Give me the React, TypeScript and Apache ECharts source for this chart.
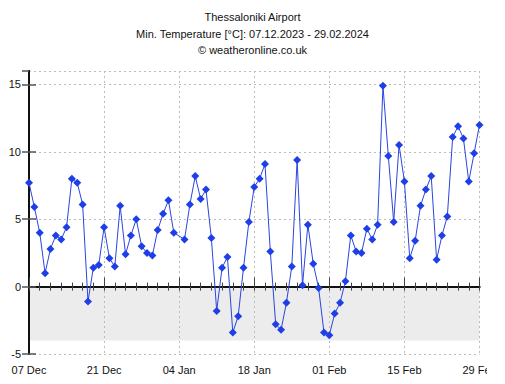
import React, { useEffect, useRef } from "react";
import * as echarts from "echarts";

const titleLines = [
  "Thessaloniki Airport",
  "Min. Temperature [°C]: 07.12.2023 - 29.02.2024",
  "© weatheronline.co.uk",
];

// day index 0 = 07 Dec 2023 ... 84 = 29 Feb 2024
const tickLabels = ["07 Dec", "21 Dec", "04 Jan", "18 Jan", "01 Feb", "15 Feb", "29 Feb"];

const minTemps: (number | null)[] = [
  7.7, 5.9, 4.0, 1.0, 2.8, 3.8, 3.5, 4.4, 8.0, 7.7,
  6.1, -1.1, 1.4, 1.6, 4.4, 2.1, 1.5, 6.0, 2.4, 3.8,
  5.0, 3.0, 2.5, 2.3, 4.2, 5.4, 6.4, 4.0, null, 3.5,
  6.1, 8.2, 6.5, 7.2, 3.6, -1.8, 1.4, 2.2, -3.4, -2.2,
  1.4, 4.8, 7.4, 8.0, 9.1, 2.6, -2.8, -3.2, -1.2, 1.5,
  9.4, 0.1, 4.6, 1.7, -0.1, -3.4, -3.6, -2.0, -1.2, 0.4,
  3.8, 2.6, 2.5, 4.3, 3.5, 4.6, 14.9, 9.7, 4.8, 10.5,
  7.8, 2.1, 3.4, 6.0, 7.2, 8.2, 2.0, 3.8, 5.2, 11.1,
  11.9, 11.0, 7.8, 9.9, 12.0,
];

const frostBand = [0, -4];

export default function App() {
  const ref = useRef<HTMLDivElement>(null);
  useEffect(() => {
    if (!ref.current) return;
    const chart = echarts.init(ref.current, null, { renderer: "svg" });
    const font = "'Liberation Sans', Arial, sans-serif";
    const data = minTemps.map((v, i) => [i, v]);
    const axisLine = { show: true, lineStyle: { color: "#111", width: 2 } };
    chart.setOption({
      animation: false,
      backgroundColor: "#fff",
      title: {
        text: titleLines.join("\n"),
        left: "center",
        top: 4,
        textStyle: {
          fontSize: 11,
          fontWeight: "normal",
          color: "#111",
          fontFamily: font,
          lineHeight: 16.5,
        },
      },
      grid: { left: 29, right: 25.5, top: 71, bottom: 30, containLabel: false },
      graphic: [
        {
          type: "rect",
          right: 0,
          top: 357,
          z: 100,
          shape: { width: 18, height: 27 },
          style: { fill: "#fff" },
        },
      ],
      xAxis: [
        {
          type: "value",
          min: 0,
          max: 84,
          interval: 14,
          position: "bottom",
          z: 1.5,
          axisLine,
          axisTick: { show: true, inside: true, length: 9, lineStyle: { color: "#444", width: 1 } },
          minorTick: { show: true, splitNumber: 7, length: 4, lineStyle: { color: "#444", width: 1 } },
          axisLabel: {
            color: "#111",
            fontSize: 11,
            fontFamily: font,
            margin: 10,
            showMaxLabel: true,
            formatter: (v: number) => tickLabels[Math.round(v / 14)] ?? "",
          },
          splitLine: { show: true, lineStyle: { color: "#bbb", type: [2, 3], width: 1 } },
        },
        {
          type: "value",
          min: 0,
          max: 84,
          interval: 2,
          position: "top",
          z: 1.5,
          axisLine,
          axisTick: { show: true, inside: true, length: 4, lineStyle: { color: "#444", width: 1 } },
          axisLabel: { show: false },
          splitLine: { show: false },
        },
      ],
      yAxis: [
        {
          type: "value",
          min: -5,
          max: 16,
          interval: 5,
          position: "left",
          z: 1.5,
          axisLine,
          axisTick: { show: true, inside: true, length: 7, lineStyle: { color: "#555", width: 1.5 } },
          axisLabel: { color: "#111", fontSize: 11, fontFamily: font, margin: 8, showMaxLabel: false },
          splitLine: { show: true, lineStyle: { color: "#bbb", type: [2, 3], width: 1 } },
        },
        {
          type: "value",
          min: -5,
          max: 16,
          interval: 5,
          position: "right",
          z: 1.5,
          axisLine,
          axisTick: { show: true, inside: true, length: 7, lineStyle: { color: "#555", width: 1.5 } },
          axisLabel: { show: false },
          splitLine: { show: false },
        },
      ],
      series: [
        {
          type: "line",
          xAxisIndex: 0,
          yAxisIndex: 0,
          data,
          connectNulls: true,
          symbol: "diamond",
          symbolSize: 8,
          z: 3,
          lineStyle: { color: "#2a45e0", width: 1 },
          itemStyle: { color: "#1e3ee8" },
          markArea: {
            silent: true,
            z: 1,
            itemStyle: { color: "#ececec" },
            data: [[{ yAxis: frostBand[0] }, { yAxis: frostBand[1] }]],
          },
        },
      ],
    });
    return () => chart.dispose();
  }, []);
  return (
    <div
      ref={ref}
      style={{ position: "fixed", left: 0, top: 0, width: 505, height: 384 }}
    />
  );
}
